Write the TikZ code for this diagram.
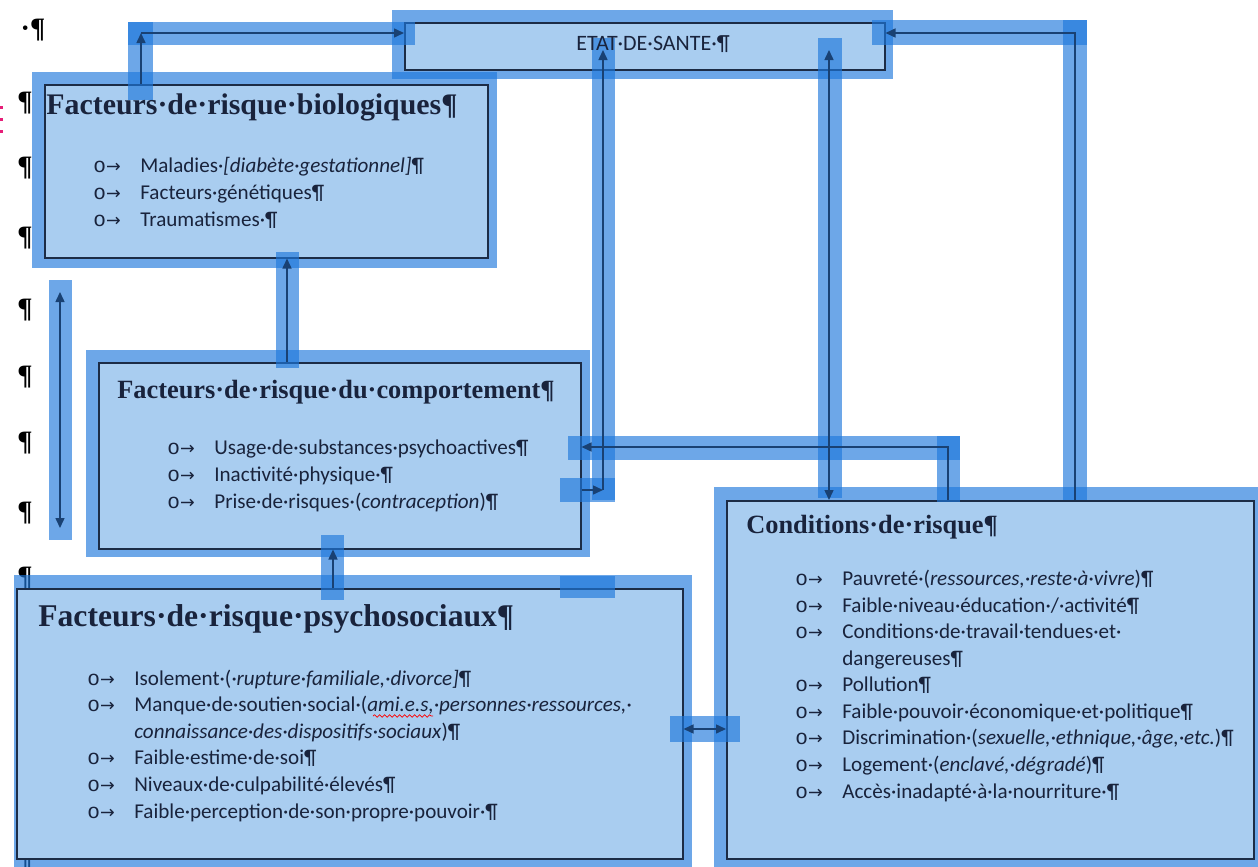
\documentclass[tikz,border=0pt]{standalone}
\usepackage{fontspec}
\setmainfont{Carlito}
\newfontfamily\titlefont{Liberation Serif}
\newfontfamily\bulletfont{Liberation Mono}
\newfontfamily\arrowfont{DejaVu Sans}
\usetikzlibrary{arrows.meta,positioning,decorations.pathmorphing}

\definecolor{selblue}{RGB}{30,120,220}
\definecolor{boxfill}{RGB}{169,205,240}
\definecolor{boxline}{RGB}{28,44,70}
\definecolor{linkcol}{RGB}{25,65,115}
\definecolor{inkcol}{RGB}{25,35,60}
\definecolor{markpink}{RGB}{230,30,120}

% bullet line and continued line of the lists
\newcommand{\itm}[1]{\makebox[9.4mm][l]{{\bulletfont o}{\arrowfont\fontsize{10}{10}\selectfont →}}#1}
\newcommand{\cont}[1]{\hspace*{9.4mm}#1}
\newcommand{\headsize}[1]{\titlefont\bfseries\fontsize{#1}{#1}\selectfont}

\begin{document}
\begin{tikzpicture}[x=0.2mm, y=-0.2mm,
    riskbox/.style={draw=boxline, line width=0.3mm, fill=boxfill, inner sep=0pt, anchor=north west},
    selband/.style={fill=selblue, fill opacity=0.65},
    link/.style={draw=linkcol, line width=0.3mm, -{Triangle[length=2mm,width=1.8mm]}},
    duallink/.style={link, {Triangle[length=2mm,width=1.8mm]}-{Triangle[length=2mm,width=1.8mm]}},
    headtxt/.style={anchor=base west, inner sep=0pt, text=inkcol},
    itemtxt/.style={anchor=base west, inner sep=0pt, align=left, text=inkcol, font=\fontsize{12}{15.1}\selectfont},
    pilcrow/.style={inner sep=0pt, text=black, font=\headsize{16}}]
    \useasboundingbox (0,0) rectangle (1258,867);

    % margin marks
    \node[pilcrow] (p0) at (33,30) {·¶};
    \foreach \py [count=\i] in {103,168,238,310,377,443,513,578,860}
        \node[pilcrow] (p\i) at (25,\py) {¶};
    \draw[markpink, line width=0.6mm, dash pattern=on 0.6mm off 1.8mm] (1,106) -- (1,138);

    % selection rings
    \fill[selband] (392,10) rectangle (893,79);
    \fill[selband] (32,72) rectangle (497,268);
    \fill[selband] (86,350) rectangle (590,557);
    \fill[selband] (14,575) rectangle (692,867);
    \fill[selband] (714,487) rectangle (1258,867);

    % Boxes
    \node[riskbox, minimum width=96mm, minimum height=9.4mm] (etat) at (404,22) {};
    \node[riskbox, minimum width=88.6mm, minimum height=34.6mm] (bio) at (44,84) {};
    \node[riskbox, minimum width=96.4mm, minimum height=37.2mm] (comp) at (98,362) {};
    \node[riskbox, minimum width=133.2mm, minimum height=54mm] (psy) at (16,588) {};
    \node[riskbox, minimum width=105.4mm, minimum height=71.6mm] (cond) at (726,500) {};

    % selection bands of the connectors
    \fill[selband] (128,22) rectangle (153,100);
    \fill[selband] (128,22) rectangle (415,45);
    \fill[selband] (592,38) rectangle (615,500);
    \fill[selband] (560,478) rectangle (615,502);
    \fill[selband] (818,38) rectangle (842,498);
    \fill[selband] (937,436) rectangle (960,502);
    \fill[selband] (568,436) rectangle (960,460);
    \fill[selband] (1063,20) rectangle (1087,500);
    \fill[selband] (872,20) rectangle (1087,45);
    \fill[selband] (276,252) rectangle (299,368);
    \fill[selband] (321,535) rectangle (344,600);
    \fill[selband] (670,716) rectangle (740,742);
    \fill[selband] (49,280) rectangle (72,540);
    \fill[selband] (560,576) rectangle (615,598);

    % Connectors
    \coordinate (bend1) at (141,33);
    \coordinate (bend2) at (603,490);
    \coordinate (tip2) at (603,50);
    \coordinate (tip3) at (829,50);
    \coordinate (bend4) at (948,447);
    \coordinate (bend5) at (1075,33);
    \coordinate (x6) at (287,300);
    \coordinate (x7) at (333,570);
    \coordinate (y8) at (700,729);
    \coordinate (lefttop) at (60,292);
    \coordinate (leftbot) at (60,528);

    \draw[link] (bio.north -| bend1) -- (bend1);
    \draw[link] (bend1) -- (bend1 -| etat.west);
    \draw[link] (bend2 -| comp.east) -- (bend2);
    \draw[link] (bend2) -- (tip2);
    \draw[duallink] (tip3) -- (tip3 |- cond.north);
    \draw[link] (bend4 |- cond.north) |- (comp.east |- bend4);
    \draw[link] (bend5 |- cond.north) |- (etat.east |- bend5);
    \draw[link] (x6 |- comp.north) -- (x6 |- bio.south);
    \draw[link] (x7 |- psy.north) -- (x7 |- comp.south);
    \draw[duallink] (psy.east |- y8) -- (cond.west |- y8);
    \draw[duallink] (lefttop) -- (leftbot);

    % Texts (lists are placed by the baseline of their last line)
    \node[inner sep=0pt, text=inkcol, font=\fontsize{12.5}{14}\selectfont] (etattxt) at (653,44) {ETAT·DE·SANTE·¶};

    \node[headtxt, font=\headsize{17}] (biohead) at (46,114) {Facteurs·de·risque·biologiques¶};
    \node[itemtxt] (biolist) at (93,226) {%
        \itm{Maladies·\textit{[diabète·gestationnel]}¶}\\
        \itm{Facteurs·génétiques¶}\\
        \itm{Traumatismes·¶}};

    \node[headtxt, font=\headsize{15}] (comphead) at (117,398) {Facteurs·de·risque·du·comportement¶};
    \node[itemtxt] (complist) at (167,508) {%
        \itm{Usage·de·substances·psychoactives¶}\\
        \itm{Inactivité·physique·¶}\\
        \itm{Prise·de·risques·(\textit{contraception})¶}};

    \node[headtxt, font=\headsize{18}] (psyhead) at (38,626) {Facteurs·de·risque·psychosociaux¶};
    \node[itemtxt] (psylist) at (87,818) {%
        \itm{Isolement·(\textit{·rupture·familiale,·divorce]}¶}\\
        \itm{Manque·de·soutien·social·(\textit{ami.e.s,·personnes·ressources,·}}\\
        \cont{\textit{connaissance·des·dispositifs·sociaux})¶}\\
        \itm{Faible·estime·de·soi¶}\\
        \itm{Niveaux·de·culpabilité·élevés¶}\\
        \itm{Faible·perception·de·son·propre·pouvoir·¶}};
    \draw[red, line width=0.15mm, decorate, decoration={snake, amplitude=0.25mm, segment length=1mm}] (373,716) -- (433,716);

    \node[headtxt, font=\headsize{15}] (condhead) at (746,533) {Conditions·de·risque¶};
    \node[itemtxt] (condlist) at (795,798) {%
        \itm{Pauvreté·(\textit{ressources,·reste·à·vivre})¶}\\
        \itm{Faible·niveau·éducation·/·activité¶}\\
        \itm{Conditions·de·travail·tendues·et·}\\
        \cont{dangereuses¶}\\
        \itm{Pollution¶}\\
        \itm{Faible·pouvoir·économique·et·politique¶}\\
        \itm{Discrimination·(\textit{sexuelle,·ethnique,·âge,·etc.})¶}\\
        \itm{Logement·(\textit{enclavé,·dégradé})¶}\\
        \itm{Accès·inadapté·à·la·nourriture·¶}};
\end{tikzpicture}
\end{document}
